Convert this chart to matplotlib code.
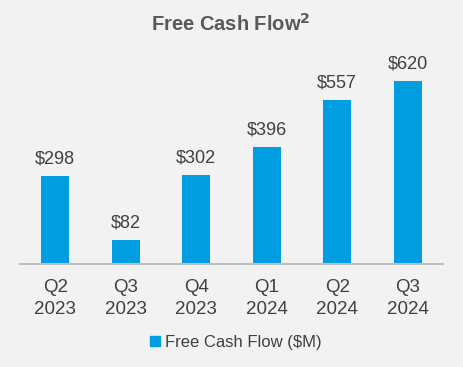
import matplotlib
matplotlib.use("Agg")
import matplotlib.pyplot as plt
from matplotlib.lines import Line2D

categories = ["Q2\n2023", "Q3\n2023", "Q4\n2023", "Q1\n2024", "Q2\n2024", "Q3\n2024"]
values = [298, 82, 302, 396, 557, 620]
labels = ["$298", "$82", "$302", "$396", "$557", "$620"]
series_name = "Free Cash Flow ($M)"

BG = "#f2f2f2"
BAR = "#009ee0"
TXT = "#404040"
TITLE = "#595959"
plt.rcParams["font.family"] = ["Liberation Sans", "DejaVu Sans"]

fig = plt.figure(figsize=(4.64, 3.67), dpi=100, facecolor=BG)
W, H = 464, 367
ax = fig.add_axes([20 / W, (H - 264) / H, 423 / W, (264 - 45) / H])
ax.set_facecolor(BG)
x = list(range(len(values)))
ax.bar(x, values, width=0.4, color=BAR, zorder=2)
ax.set_xlim(-0.5, len(values) - 0.5)
ax.set_ylim(0, 742)
for xi, v, lab in zip(x, values, labels):
    ax.annotate(lab, (xi, v), xytext=(0, 17), textcoords="offset pixels",
                ha="center", va="center", fontsize=13, color=TXT)
for s in ["top", "right", "left"]:
    ax.spines[s].set_visible(False)
ax.spines["bottom"].set_color("#bfbfbf")
ax.spines["bottom"].set_linewidth(1.5)
ax.set_yticks([])
ax.set_xticks(x)
ax.set_xticklabels(categories, fontsize=13.5, color=TXT, linespacing=1.4)
ax.tick_params(axis="x", length=0, pad=11)

fig.text(231 / W, 1 - 24 / H, "Free Cash Flow$^{\\mathbf{2}}$", ha="center", va="center",
         fontsize=14.5, fontweight="bold", color=TITLE)

handle = Line2D([], [], marker="s", linestyle="none", markersize=7.5, color=BAR)
fig.legend([handle], [series_name], loc="center", bbox_to_anchor=(234 / W, 1 - 342 / H),
           frameon=False, fontsize=12, labelcolor=TXT, handletextpad=0.1, handlelength=1.0)

fig.savefig("out.png", dpi=100, facecolor=BG)
